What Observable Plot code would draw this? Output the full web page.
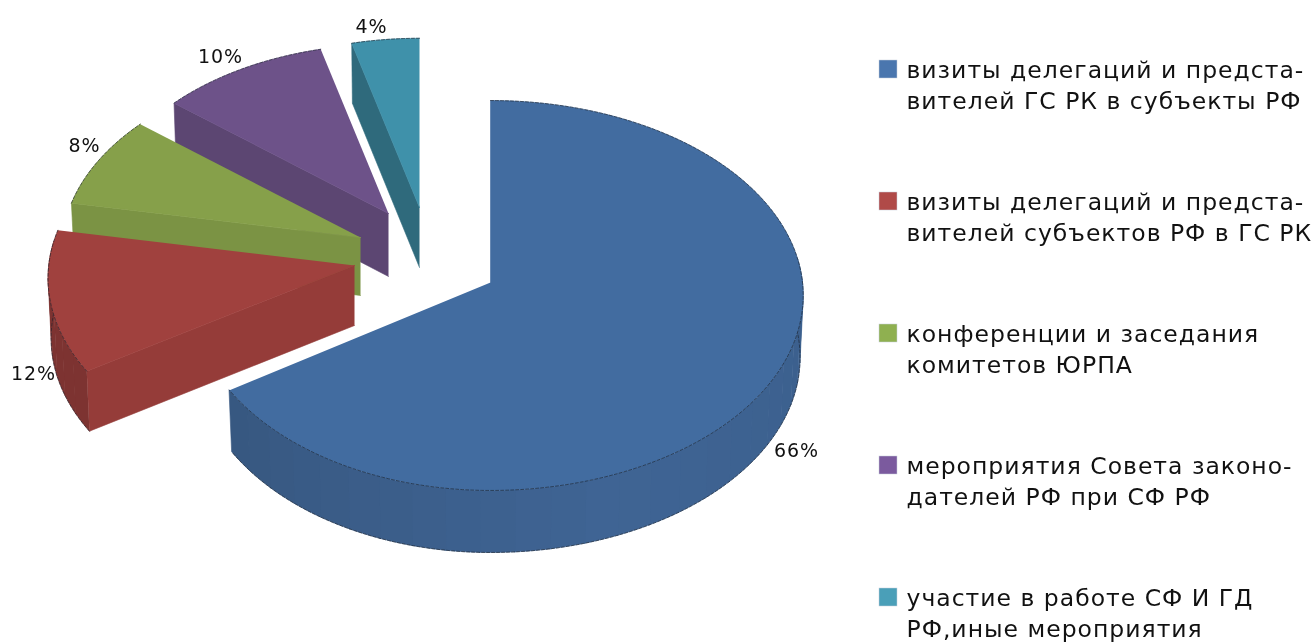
<!DOCTYPE html>
<html>
<head>
<meta charset="utf-8">
<script src="https://cdn.jsdelivr.net/npm/d3@7"></script>
<script src="https://cdn.jsdelivr.net/npm/@observablehq/plot@0.6"></script>
<style>html,body{margin:0;padding:0;background:#fff} svg text{letter-spacing:1px}</style>
</head>
<body>
<div id="chart"></div>
<script>
// Data
const categories = [
  "визиты делегаций и предста-\nвителей ГС РК в субъекты РФ",
  "визиты делегаций и предста-\nвителей субъектов РФ в ГС РК",
  "конференции и заседания\nкомитетов ЮРПА",
  "мероприятия Совета законо-\nдателей РФ при СФ РФ",
  "участие в работе СФ И ГД\nРФ,иные мероприятия"
];
const shares = [66, 12, 8, 10, 4];

// Styles and layout of the 3D drawing
const topColors = ["#426ca0", "#a0413e", "#86a04a", "#6d5289", "#3f91aa"];
const cutColors = ["#3c6090", "#953c39", "#7b9344", "#5c4672", "#2f6a7c"];
const wallColors = ["#3c6090", "#7d3331", "#7b9344", "#5c4672", "#2f6a7c"];
const keyColors = ["#4a76ae", "#b04a48", "#8fb050", "#7b5a9e", "#4a9fb8"];
const apexX = [490, 354, 360, 388, 419];
const apexY = [282, 265, 237, 213, 207];
const sliceScale = [1, 0.98, 0.955, 0.93, 0.93];
const leftScale = [0.955, 1, 1, 1, 1];
const depth = [62, 60, 58, 63, 60];
const labelX = [796, 33, 84, 220, 371];
const labelY = [450, 373, 145, 56, 26];
const keyY = [60, 192, 324, 456, 588];
const RX = 312, RY = 194.1, K = 0.0667;

const total = d3.sum(shares);
const rad = v => (v / total) * 2 * Math.PI;
let run = 0;
const slices = shares.map((v, i) => {
  const a0 = rad(run); run += v; const a1 = rad(run);
  return {i, a0, a1};
});

function pt(i, t) {
  const X = Math.sin(t), Z = Math.cos(t), w = 1 + K * Z, s = sliceScale[i];
  const sx = X < 0 ? leftScale[i] : 1;
  return {x: apexX[i] + RX * s * sx * X / w, y: apexY[i] - RY * s * Z / w};
}
const low = (i, p) => ({x: apexX[i] + (p.x - apexX[i]) * 0.99, y: p.y + depth[i]});
function arc(i, a0, a1) {
  const n = Math.max(2, Math.ceil(Math.abs(a1 - a0) / 0.02));
  return d3.range(n + 1).map(j => pt(i, a0 + (a1 - a0) * j / n));
}
const apex = i => ({x: apexX[i], y: apexY[i]});
const poly = (pts, color) => Plot.line(pts, {x: "x", y: "y", fill: color, stroke: color, strokeWidth: 0.6, curve: "linear"});
const edge = pts => Plot.line(pts, {x: "x", y: "y", stroke: "#18202c", strokeWidth: 1, strokeOpacity: 0.6, strokeDasharray: "3 2", curve: "linear"});

const blueWall = d3.scaleLinear().domain([0, 0.5, 1]).range(["#3b5f8c", "#3f6494", "#375780"]);

const marks = [];
for (const {i, a0, a1} of [...slices].reverse()) {
  const top = arc(i, a0, a1);
  // cut face along the leading edge
  if (i > 0) {
    const c = pt(i, a0), A = apex(i);
    marks.push(poly([A, c, low(i, c), low(i, A)], cutColors[i]));
  }
  // outer wall, in facets, on the near half only
  const wa0 = Math.max(a0, Math.PI * 0.46), wa1 = Math.min(a1, Math.PI * 1.54);
  if (wa1 > wa0) {
    const nf = Math.ceil((wa1 - wa0) / 0.11);
    for (let f = 0; f < nf; f++) {
      const f0 = wa0 + (wa1 - wa0) * f / nf, f1 = wa0 + (wa1 - wa0) * (f + 1) / nf + 0.004;
      const seg = arc(i, f0, f1);
      const m = (f + 0.5) / nf;
      const c = i === 0 ? d3.rgb(blueWall(m)).formatHex() : wallColors[i];
      marks.push(poly([...seg, ...seg.map(p => low(i, p)).reverse()], c));
    }
    marks.push(edge(arc(i, wa0, wa1).map(p => low(i, p))));
  }
  // top face
  marks.push(poly([apex(i), ...top], topColors[i]));
  marks.push(edge(top));
}

const labels = shares.map((v, i) => ({t: v + "%", x: labelX[i], y: labelY[i]}));
const keys = categories.map((c, i) => ({c, i, y: keyY[i], color: keyColors[i]}));

marks.push(Plot.text(labels, {x: "x", y: "y", text: "t", fontSize: 19, fontFamily: "DejaVu Sans", fill: "#111", textAnchor: "middle"}));
keys.forEach(k => marks.push(Plot.rect([k], {x1: () => 879, x2: () => 897, y1: d => d.y, y2: d => d.y + 18, fill: k.color, stroke: "#c8d0dc", strokeWidth: 0.5})));
marks.push(Plot.text(keys, {x: () => 906, y: d => d.y - 5, text: "c", fontSize: 23.5, lineHeight: 1.34, lineAnchor: "top", textAnchor: "start", fontFamily: "DejaVu Sans", fill: "#111"}));

const plot = Plot.plot({
  width: 1316, height: 643,
  marginTop: 0, marginRight: 0, marginBottom: 0, marginLeft: 0,
  x: {domain: [0, 1316], range: [0, 1316], axis: null},
  y: {domain: [0, 643], range: [0, 643], axis: null},
  style: {background: "#fff", filter: "blur(0.45px)"},
  marks
});
document.getElementById("chart").appendChild(plot);
</script>
</body>
</html>
